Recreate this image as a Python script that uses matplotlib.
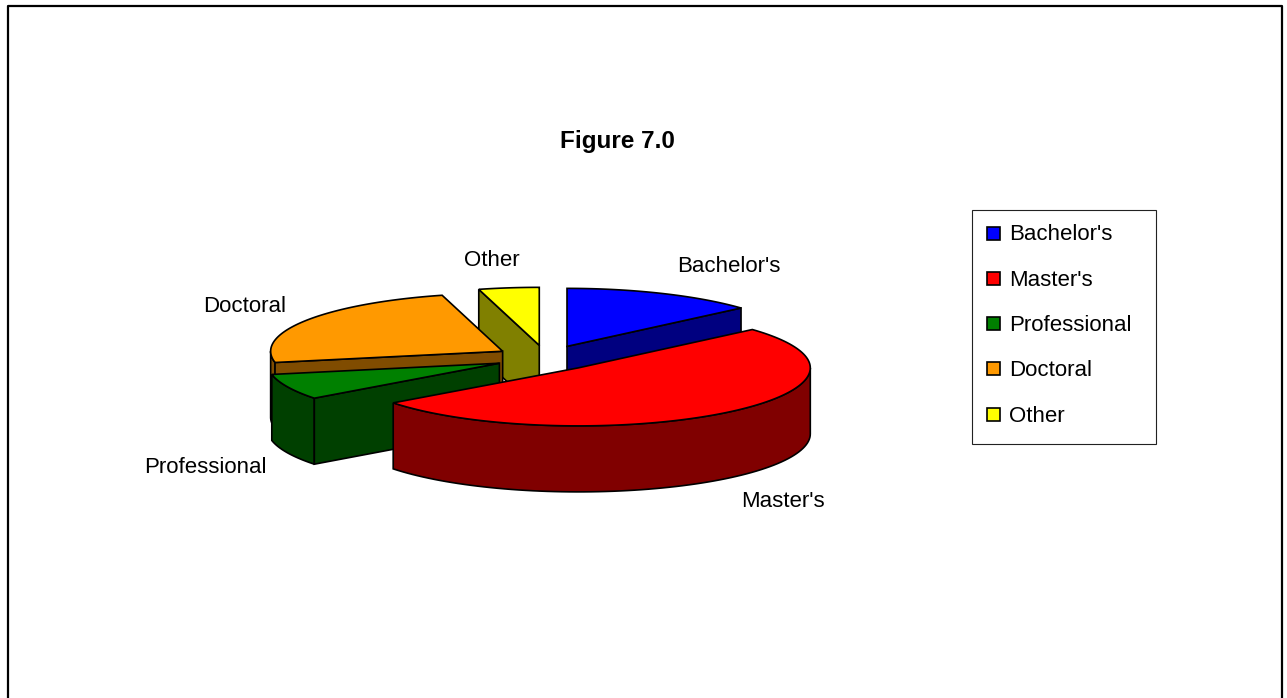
import numpy as np
import matplotlib
matplotlib.use("Agg")
import matplotlib.pyplot as plt
from matplotlib.patches import Polygon, Rectangle

plt.rcParams['font.family'] = ['Liberation Sans', 'DejaVu Sans']

# data (percent share)
labels = ["Bachelor's", "Master's", "Professional", "Doctoral", "Other"]
values = [13.5, 51.2, 7.2, 23.9, 4.2]
top_colors = ["#0000FF", "#FF0000", "#008000", "#FF9900", "#FFFF00"]
side_colors = ["#000080", "#800000", "#004000", "#804C00", "#808000"]

# label placement (pixel coords, baseline)
label_pos = [(729, 272), (783, 507), (205, 473), (245, 312), (492, 266)]

# pie geometry in pixels
cx, cy = 546, 358
a, b = 232, 58
depth = 66
explode = 0.22
start = 90.0

fig = plt.figure(figsize=(12.87, 6.98), dpi=100)
ax = fig.add_axes([0, 0, 1, 1])
ax.set_xlim(0, 1287)
ax.set_ylim(698, 0)
ax.axis('off')

fracs = np.array(values) / np.sum(values)
cum = np.concatenate([[0], np.cumsum(fracs)])

slices = []
for i in range(len(values)):
    t1 = start - 360 * cum[i + 1]
    t2 = start - 360 * cum[i]
    mid = np.radians((t1 + t2) / 2)
    vx = cx + explode * a * np.cos(mid)
    vy = cy - explode * b * np.sin(mid)
    slices.append((vy, i, t1, t2, vx))


def rim(vx, vy, t, dz=0):
    r = np.radians(t)
    return np.column_stack([vx + a * np.cos(r), vy - b * np.sin(r) + dz])


lw = 1.2
# back to front
for vy, i, t1, t2, vx in sorted(slices):
    # curved outer wall (front half only)
    for k in (-1, 0, 1):
        lo = max(t1, -180 + 360 * k)
        hi = min(t2, 360 * k)
        if lo < hi:
            ts = np.linspace(lo, hi, 80)
            pts = np.vstack([rim(vx, vy, ts), rim(vx, vy, ts[::-1], depth)])
            ax.add_patch(Polygon(pts, closed=True, fc=side_colors[i], ec='black', lw=lw))
    # radial walls
    for t, visible in ((t1, np.cos(np.radians(t1)) > 1e-6),
                       (t2, np.cos(np.radians(t2)) < -1e-6)):
        if visible:
            p = rim(vx, vy, [t])[0]
            pts = [(vx, vy), p, (p[0], p[1] + depth), (vx, vy + depth)]
            ax.add_patch(Polygon(pts, closed=True, fc=side_colors[i], ec='black', lw=lw))
    # top face
    ts = np.linspace(t1, t2, 120)
    pts = np.vstack([[vx, vy], rim(vx, vy, ts)])
    ax.add_patch(Polygon(pts, closed=True, fc=top_colors[i], ec='black', lw=lw, joinstyle='miter'))

for lab, (x, y) in zip(labels, label_pos):
    ax.text(x, y, lab, ha='center', va='baseline', fontsize=16)

ax.text(617, 148, "Figure 7.0", ha='center', va='baseline', fontsize=17.5, fontweight='bold')

# legend
ax.add_patch(Rectangle((971.5, 209.5), 184, 234, fc='white', ec='#222222', lw=0.8))
for j, lab in enumerate(labels):
    yc = 233 + j * 45.3
    ax.add_patch(Rectangle((986.5, yc - 6.5), 13, 13, fc=top_colors[j], ec='black', lw=1.2))
    ax.text(1009, yc + 7.5, lab, ha='left', va='baseline', fontsize=16)

# outer chart border
ax.plot([7.5, 7.5, 1281.5, 1281.5], [710, 5.5, 5.5, 710], color='black', lw=1.6)

fig.savefig("out.png", dpi=100)
